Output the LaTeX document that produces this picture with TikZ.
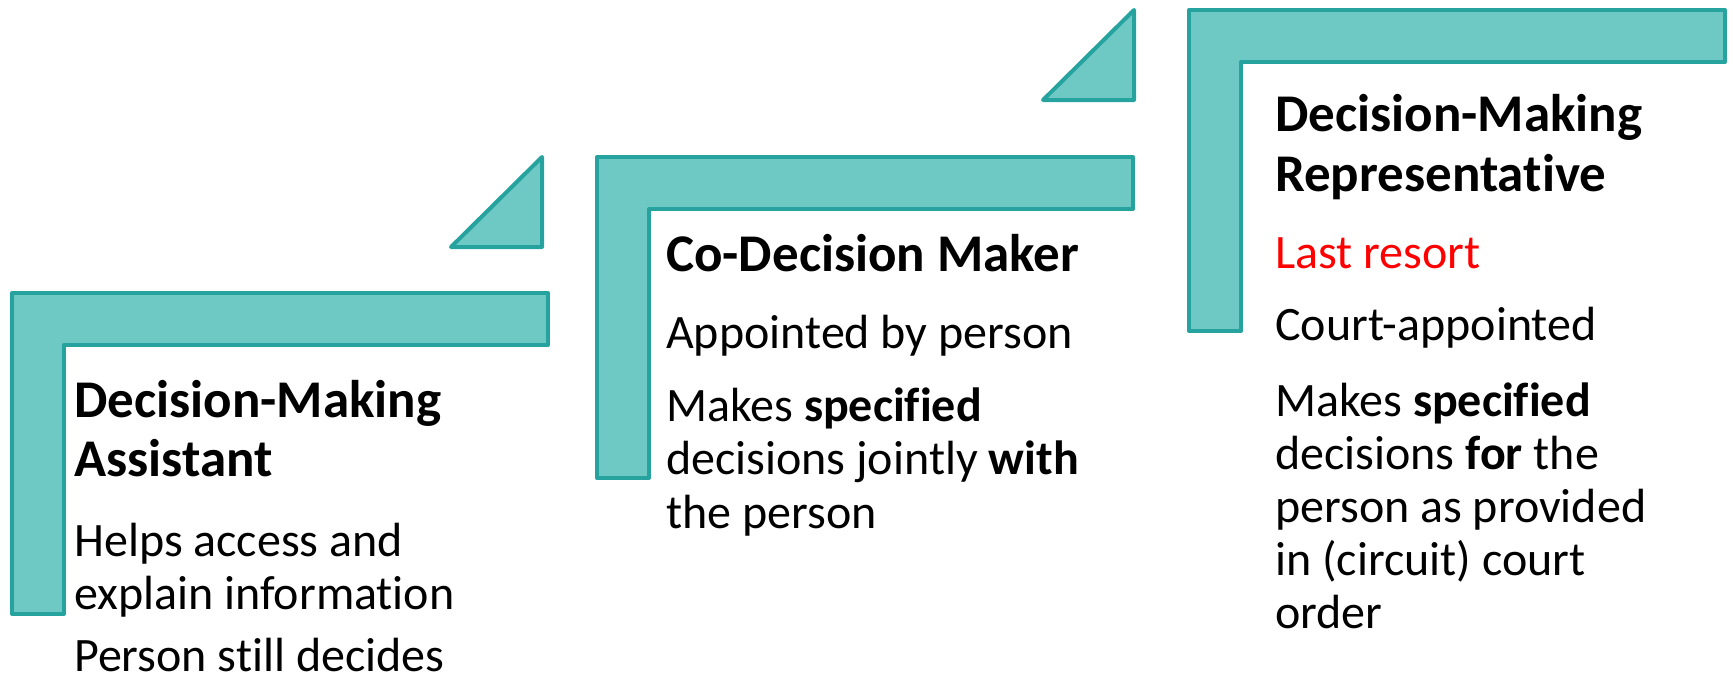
\documentclass[tikz,border=0pt]{standalone}
\usepackage{fontspec}
\setmainfont{Carlito}[Ligatures=NoCommon]
\definecolor{tealfill}{RGB}{110,200,196}
\definecolor{tealline}{RGB}{38,163,158}
\definecolor{resortred}{RGB}{255,0,0}
\tikzset{
  bracket/.style={fill=tealfill,draw=tealline,line width=4pt,line join=round},
  % L-shaped step: top bar plus left post
  lstep/.pic={\path[bracket] (0,0) -- (536,0) -- (536,52) -- (52,52) -- (52,321) -- (0,321) -- cycle;},
  % small right-angled wedge in front of each higher step
  wedge/.pic={\path[bracket] (0,0) -- (0,90) -- (-91,90) -- cycle;},
  head/.style={anchor=base west,inner sep=0pt,font=\fontsize{53}{60}\selectfont\bfseries},
  body/.style={anchor=base west,inner sep=0pt,font=\fontsize{48}{53}\selectfont},
}
\begin{document}
\begin{tikzpicture}[x=1pt,y=-1pt]
\useasboundingbox (0,0) rectangle (1733,681);

% steps
\pic at (12,293) {lstep};
\pic at (597,157) {lstep};
\pic at (1189,10) {lstep};
\pic at (542,157) {wedge};
\pic at (1134,10) {wedge};

% first step
\node[head] (a1) at (74,417) {Decision-Making};
\node[head] (a2) at (74,476) {Assistant};
\node[body] (a3) at (74,556) {Helps access and};
\node[body] (a4) at (74,609) {explain information};
\node[body,text depth=0pt] (a5) at (74,671) {Person still decides};

% second step
\node[head] (b1) at (666,271) {Co-Decision Maker};
\node[body] (b2) at (666,348) {Appointed by person};
\node[body] (b3) at (666,421) {Makes \textbf{specified}};
\node[body] (b4) at (666,474) {decisions jointly \textbf{with}};
\node[body] (b5) at (666,528) {the person};

% third step
\node[head] (c1) at (1275,131) {Decision-Making};
\node[head] (c2) at (1275,191) {Representative};
\node[body,text=resortred] (c3) at (1275,268) {Last resort};
\node[body] (c4) at (1275,340) {Court-appointed};
\node[body] (c5) at (1275,416) {Makes \textbf{specified}};
\node[body] (c6) at (1275,469) {decisions \textbf{for} the};
\node[body] (c7) at (1275,522) {person as provided};
\node[body] (c8) at (1275,575) {in (circuit) court};
\node[body] (c9) at (1275,628) {order};
\end{tikzpicture}
\end{document}
